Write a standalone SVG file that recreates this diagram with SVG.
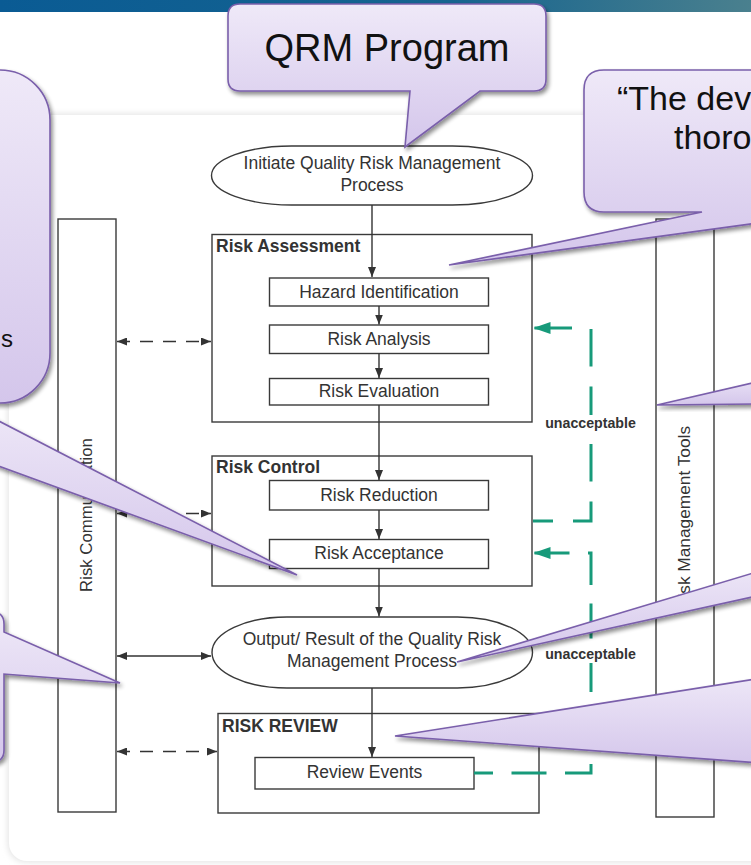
<svg xmlns="http://www.w3.org/2000/svg" width="751" height="865" viewBox="0 0 751 865">
  <defs>
    <linearGradient id="banner" x1="0" y1="0" x2="1" y2="0">
      <stop offset="0" stop-color="#0a5b94"/>
      <stop offset="0.6" stop-color="#16648f"/>
      <stop offset="1" stop-color="#4a808e"/>
    </linearGradient>
    <linearGradient id="bubble" x1="0" y1="0" x2="0" y2="1">
      <stop offset="0" stop-color="#efe9f8"/>
      <stop offset="1" stop-color="#d4c6eb"/>
    </linearGradient>
    <filter id="shadow" x="-20%" y="-20%" width="140%" height="140%">
      <feGaussianBlur in="SourceAlpha" stdDeviation="2"/>
      <feOffset dx="2" dy="3" result="blur"/>
      <feComponentTransfer><feFuncA type="linear" slope="0.45"/></feComponentTransfer>
      <feMerge><feMergeNode/><feMergeNode in="SourceGraphic"/></feMerge>
    </filter>
    <filter id="soft" x="-5%" y="-5%" width="110%" height="110%">
      <feGaussianBlur stdDeviation="3"/>
    </filter>
    <marker id="ah" viewBox="0 0 10 8" refX="10" refY="4" markerWidth="10" markerHeight="8" markerUnits="userSpaceOnUse" orient="auto-start-reverse">
      <path d="M0,0 L10,4 L0,8 Z" fill="#333"/>
    </marker>
    <marker id="gh" viewBox="0 0 17 12" refX="17" refY="6" markerWidth="17" markerHeight="12" markerUnits="userSpaceOnUse" orient="auto">
      <path d="M0,0 L17,6 L0,12 Z" fill="#179a7a"/>
    </marker>
    <style>
      .box { fill: #fff; stroke: #3a3a3a; stroke-width: 1.4; }
      .lane { fill: #fff; stroke: #3a3a3a; stroke-width: 1.4; }
      .txt { font-family: "Liberation Sans", Arial, sans-serif; font-size: 17.5px; fill: #333; text-anchor: middle; }
      .hdr { font-family: "Liberation Sans", Arial, sans-serif; font-size: 17.5px; font-weight: bold; fill: #333; }
      .vtxt { font-family: "Liberation Sans", Arial, sans-serif; fill: #333; text-anchor: middle; }
      .lbl { font-family: "Liberation Sans", Arial, sans-serif; font-size: 14.2px; font-weight: bold; fill: #333; text-anchor: middle; }
      .line { fill: none; stroke: #333; stroke-width: 1.4; }
      .dash { fill: none; stroke: #333; stroke-width: 1.4; stroke-dasharray: 13 10; }
      .loop { fill: none; stroke: #179a7a; stroke-width: 3; }
      .callout { fill: url(#bubble); stroke: #7a5fab; stroke-width: 1.6; stroke-linejoin: miter; filter: url(#shadow); }
      .ctxt { font-family: "Liberation Sans", Arial, sans-serif; fill: #111; }
    </style>
  </defs>

  <!-- page -->
  <rect x="0" y="0" width="751" height="865" fill="#fff"/>
  <rect x="8" y="114" width="800" height="748" rx="18" fill="#e2e2e2" filter="url(#soft)"/>
  <rect x="9" y="115" width="800" height="746" rx="18" fill="#fff"/>
  <rect x="0" y="0" width="751" height="12" fill="url(#banner)"/>

  <!-- swim lanes -->
  <g id="risk-communication">
    <rect class="lane" x="58" y="219" width="58" height="593"/>
    <text class="vtxt" font-size="16.8" transform="translate(92,515) rotate(-90)">Risk Communication</text>
  </g>
  <g id="risk-management-tools">
    <rect class="lane" x="656" y="219" width="58" height="598"/>
    <text class="vtxt" font-size="17.3" transform="translate(690,518) rotate(-90)">Risk Management Tools</text>
  </g>

  <!-- flow nodes -->
  <g id="initiate">
    <rect class="box" x="211.5" y="146" width="321" height="59" rx="80" ry="29.5"/>
    <text class="txt" x="372" y="169">Initiate Quality Risk Management</text>
    <text class="txt" x="372" y="190.5">Process</text>
  </g>
  <g id="risk-assessment">
    <rect class="box" x="212" y="234.5" width="320" height="187.5"/>
    <text class="hdr" x="216" y="251.5">Risk Assessment</text>
  </g>
  <g id="hazard-identification">
    <rect class="box" x="269.5" y="278" width="219" height="28"/>
    <text class="txt" x="379" y="297.5">Hazard Identification</text>
  </g>
  <g id="risk-analysis">
    <rect class="box" x="269.5" y="325" width="219" height="28.5"/>
    <text class="txt" x="379" y="344.5">Risk Analysis</text>
  </g>
  <g id="risk-evaluation">
    <rect class="box" x="269.5" y="378.5" width="219" height="26.5"/>
    <text class="txt" x="379" y="397">Risk Evaluation</text>
  </g>
  <g id="risk-control">
    <rect class="box" x="212" y="456" width="320" height="130"/>
    <text class="hdr" x="216" y="472.5">Risk Control</text>
  </g>
  <g id="risk-reduction">
    <rect class="box" x="269.5" y="480.5" width="219" height="29.5"/>
    <text class="txt" x="379" y="500.5">Risk Reduction</text>
  </g>
  <g id="risk-acceptance">
    <rect class="box" x="269.5" y="539.5" width="219" height="29"/>
    <text class="txt" x="379" y="559">Risk Acceptance</text>
  </g>
  <g id="output">
    <rect class="box" x="212" y="617" width="320.5" height="71" rx="75" ry="35.5"/>
    <text class="txt" x="372" y="645">Output/ Result of the Quality Risk</text>
    <text class="txt" x="372" y="666.5">Management Process</text>
  </g>
  <g id="risk-review">
    <rect class="box" x="218" y="713.5" width="321" height="99.5"/>
    <text class="hdr" x="222" y="731.5">RISK REVIEW</text>
  </g>
  <g id="review-events">
    <rect class="box" x="255" y="757.5" width="219" height="31.5"/>
    <text class="txt" x="364.5" y="778">Review Events</text>
  </g>

  <!-- connectors -->
  <g id="connectors">
    <line class="line" x1="372" y1="205" x2="372" y2="277" marker-end="url(#ah)"/>
    <line class="line" x1="379" y1="306" x2="379" y2="324.5" marker-end="url(#ah)"/>
    <line class="line" x1="379" y1="353.5" x2="379" y2="378" marker-end="url(#ah)"/>
    <line class="line" x1="379" y1="405" x2="379" y2="480" marker-end="url(#ah)"/>
    <line class="line" x1="379" y1="510" x2="379" y2="539" marker-end="url(#ah)"/>
    <line class="line" x1="379" y1="568.5" x2="379" y2="616.5" marker-end="url(#ah)"/>
    <line class="line" x1="372" y1="688" x2="372" y2="757" marker-end="url(#ah)"/>

    <line class="dash" x1="117" y1="341.5" x2="211" y2="341.5" marker-start="url(#ah)" marker-end="url(#ah)"/>
    <line class="dash" x1="117" y1="513.5" x2="211" y2="513.5" marker-start="url(#ah)" marker-end="url(#ah)"/>
    <line class="line" x1="117" y1="656" x2="211" y2="656" marker-start="url(#ah)" marker-end="url(#ah)"/>
    <line class="dash" x1="117" y1="751.5" x2="217" y2="751.5" marker-start="url(#ah)" marker-end="url(#ah)"/>

    <path class="loop" d="M533,521 H591 V328 H533.5" stroke-dasharray="37.5 20" stroke-dashoffset="17.5" marker-end="url(#gh)"/>
    <path class="loop" d="M474,773 H591 V553 H533.5" stroke-dasharray="35 18.5" stroke-dashoffset="16" marker-end="url(#gh)"/>
    <rect x="545" y="415" width="92" height="16" fill="#fff"/>
    <text class="lbl" x="590.5" y="427.5">unacceptable</text>
    <rect x="545" y="646" width="92" height="17" fill="#fff"/>
    <text class="lbl" x="590.5" y="658.5">unacceptable</text>
  </g>

  <!-- speech bubbles -->
  <g id="callout-top-left">
    <path class="callout" d="M-60,70 H0 A50,50 0 0 1 50,120 V353 A50,50 0 0 1 0,403 H-60 Z"/>
    <text class="ctxt" x="1" y="347" font-size="24">s</text>
  </g>
  <g id="callout-acceptance">
    <path class="callout" d="M-40,401 L297,575 L-40,452 Z"/>
  </g>
  <g id="callout-bottom-left">
    <path class="callout" d="M-60,612 H-8 Q4,612 4,624 V632 L120,683 L4,674 V750 Q4,762 -8,762 H-60 Z"/>
  </g>
  <g id="callout-qrm">
    <path class="callout" d="M240,4 H534 Q546,4 546,16 V79 Q546,91 534,91 H480 L405,147 L410,91 H240 Q228,91 228,79 V16 Q228,4 240,4 Z"/>
    <text class="ctxt" x="387" y="61" font-size="38" text-anchor="middle">QRM Program</text>
  </g>
  <g id="callout-top-right">
    <path class="callout" d="M604,70 H900 V212 H839 L449,265 L702,212 H604 Q584,212 584,192 V90 Q584,70 604,70 Z"/>
    <text class="ctxt" x="617" y="110" font-size="34">“The dev</text>
    <text class="ctxt" x="674" y="149" font-size="34">thoro</text>
  </g>
  <g id="callout-tools">
    <path class="callout" d="M657,405 L800,372 L800,403.5 Z"/>
  </g>
  <g id="callout-output">
    <path class="callout" d="M457,662 L800,559 L800,586.5 Z"/>
  </g>
  <g id="callout-review">
    <path class="callout" d="M395,736 L800,672 L800,766 Z"/>
  </g>
</svg>
